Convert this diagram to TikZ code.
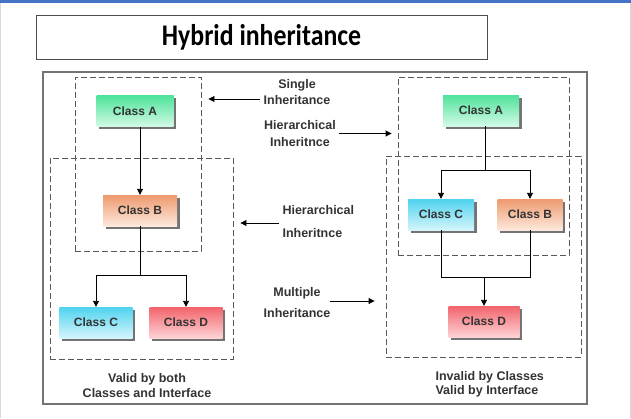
\documentclass[tikz,border=0pt]{standalone}
\usepackage{fontspec}
\setmainfont{Liberation Sans}
\newfontfamily\titlefont{Carlito}
\usetikzlibrary{arrows.meta, positioning, shadows, calc}
\definecolor{txtgray}{HTML}{333333}
\definecolor{topblue}{HTML}{4472C4}
\definecolor{clsAtop}{HTML}{4EE39A}
\definecolor{clsAbot}{HTML}{D2FAE6}
\definecolor{clsBtop}{HTML}{EE9A6E}
\definecolor{clsBbot}{HTML}{FDE9DD}
\definecolor{clsCtop}{HTML}{4FD3EE}
\definecolor{clsCbot}{HTML}{D4F5FC}
\definecolor{clsDtop}{HTML}{F2636B}
\definecolor{clsDbot}{HTML}{FDD3D5}
\tikzset{
    classbox/.style={rectangle, minimum height=31pt, inner sep=0pt, text=txtgray, font=\fontsize{12}{14}\selectfont\bfseries, drop shadow={shadow xshift=2.5pt, shadow yshift=-2.5pt, fill=black!55, opacity=1}},
    clsA/.style={top color=clsAtop, bottom color=clsAbot},
    clsB/.style={top color=clsBtop, bottom color=clsBbot},
    clsC/.style={top color=clsCtop, bottom color=clsCbot},
    clsD/.style={top color=clsDtop, bottom color=clsDbot},
    lbl/.style={align=center, text=txtgray, font=\fontsize{12.5}{16}\selectfont\bfseries},
    grp/.style={draw=black!65, dash pattern=on 6pt off 3pt, line width=0.9pt, inner sep=0pt},
    arr/.style={draw, -{Triangle[length=6pt, width=6pt]}, line width=0.9pt},
    link/.style={draw, line width=0.9pt}
}
\begin{document}
\begin{tikzpicture}[x=1pt, y=-1pt]
    % page
    \useasboundingbox (0,0) rectangle (631,418);
    \fill[white] (0,0) rectangle (631,418);
    \fill[topblue] (0,0) rectangle (631,3);
    \draw[black!15] (0.5,3) -- (0.5,418);
    \draw[black!15] (630.5,3) -- (630.5,418);

    \node [draw=black!70, line width=0.8pt, minimum width=451pt, minimum height=44pt, font=\titlefont\fontsize{30}{32}\selectfont\bfseries] (title) at (261.5,37) {\scalebox{0.86}[1]{Hybrid inheritance}};
    \node [draw=black!55, line width=1.4pt, minimum width=544pt, minimum height=332pt] (frame) at (315,238) {};

    % dashed groups
    \node [grp, minimum width=126pt, minimum height=174pt] (boxsingle) at (138,164) {};
    \node [grp, minimum width=183pt, minimum height=201pt] (boxlmulti) at (141.5,258.5) {};
    \node [grp, minimum width=171pt, minimum height=178pt] (boxrhier) at (483.5,166) {};
    \node [grp, minimum width=195pt, minimum height=201pt] (boxrmulti) at (483.5,256.5) {};

    % left tree
    \node [classbox, clsA, minimum width=77pt] (lA) at (135,111) {Class A};
    \node [classbox, clsB, minimum width=74pt] (lB) at (140,210.5) {Class B};
    \node [classbox, clsC, minimum width=73pt] (lC) at (96,322.5) {Class C};
    \node [classbox, clsD, minimum width=73pt] (lD) at (186,322.5) {Class D};
    \coordinate (lsplit) at (140,275);

    \draw [arr] (lB.north |- lA.south) -- (lB.north);
    \draw [link] (lB.south) -- (lsplit);
    \draw [arr] (lsplit) -| (lC.north);
    \draw [arr] (lsplit) -| (lD.north);

    % right tree
    \node [classbox, clsA, minimum width=76pt] (rA) at (481,110.5) {Class A};
    \node [classbox, clsC, minimum width=66pt] (rC) at (441,214.5) {Class C};
    \node [classbox, clsB, minimum width=65pt] (rB) at (530,214.5) {Class B};
    \node [classbox, clsD, minimum width=71pt] (rD) at (484,321.5) {Class D};
    \coordinate (rsplit) at (485,170);
    \coordinate (rjoin) at (484,277);

    \draw [link] (rsplit |- rA.south) -- (rsplit);
    \draw [arr] (rsplit) -| (rC.north);
    \draw [arr] (rsplit) -| (rB.north);
    \draw [link] (rC.south) -- (rC.south |- rjoin) -- (rB.south |- rjoin) -- (rB.south);
    \draw [arr] (rjoin) -- (rD.north);

    % labels
    \node [lbl] (lblsingle) at (297,92) {Single\\Inheritance};
    \node [lbl, font=\fontsize{12.5}{17}\selectfont\bfseries] (lblhier1) at (300,133.5) {Hierarchical\\Inheritnce};
    \node [lbl, align=left, anchor=west, font=\fontsize{12.5}{23}\selectfont\bfseries] (lblhier2) at (279,221.5) {Hierarchical\\Inheritnce};
    \node [lbl, font=\fontsize{12.5}{21}\selectfont\bfseries] (lblmulti) at (297,302.5) {Multiple\\Inheritance};
    \node [lbl, font=\fontsize{12.5}{15}\selectfont\bfseries] (lblvalid) at (147,385.5) {Valid by both\\Classes and Interface};
    \node [lbl, align=left, anchor=west, font=\fontsize{12.5}{14}\selectfont\bfseries] (lblinvalid) at (432,384) {Invalid by Classes\\Valid by Interface};

    \draw [arr] ($(lblsingle.west)+(0,7)$) -- ($(lblsingle.west -| boxsingle.east)+(7,7)$);
    \draw [arr] (lblhier1.east) -- ($(lblhier1.east -| boxrhier.west)+(-6,0)$);
    \draw [arr] ($(lblhier2.west)+(0,1.5)$) -- ($(lblhier2.west -| boxlmulti.east)+(7,1.5)$);
    \draw [arr] ($(lblmulti.east)+(-4,-1.5)$) -- ($(lblmulti.east -| boxrmulti.west)+(-11,-1.5)$);
\end{tikzpicture}
\end{document}
